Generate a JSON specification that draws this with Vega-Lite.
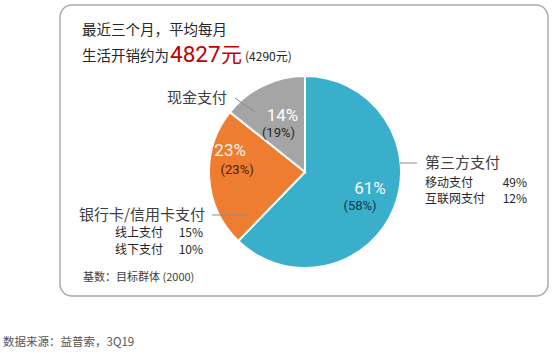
{
  "$schema": "https://vega.github.io/schema/vega-lite/v6.json",
  "width": 488,
  "height": 291,
  "autosize": {"type": "none"},
  "padding": {"left": 60, "top": 5, "right": 6, "bottom": 57},
  "background": "white",
  "config": {
    "view": {"stroke": "#a9a9a9", "strokeWidth": 1.5, "cornerRadius": 12},
    "font": "Noto Sans CJK SC",
    "text": {"font": "Noto Sans CJK SC", "fill": "#262626"}
  },
  "datasets": {
    "pie": [
      {"category": "第三方支付", "share": 61, "label": "61%", "prevLabel": "(58%)"},
      {"category": "银行卡/信用卡支付", "share": 23, "label": "23%", "prevLabel": "(23%)"},
      {"category": "现金支付", "share": 14, "label": "14%", "prevLabel": "(19%)"}
    ],
    "breakdown": [
      {"group": "第三方支付", "name": "移动支付", "pct": "49%"},
      {"group": "第三方支付", "name": "互联网支付", "pct": "12%"},
      {"group": "银行卡/信用卡支付", "name": "线上支付", "pct": "15%"},
      {"group": "银行卡/信用卡支付", "name": "线下支付", "pct": "10%"}
    ]
  },
  "layer": [
    {
      "data": {"name": "pie"},
      "mark": {"type": "arc", "outerRadius": 96, "stroke": "white", "strokeWidth": 2},
      "encoding": {
        "x": {"value": 245},
        "y": {"value": 167},
        "theta": {"field": "share", "type": "quantitative", "stack": true},
        "order": {"field": "share", "sort": "descending"},
        "color": {
          "field": "category",
          "type": "nominal",
          "scale": {"domain": ["第三方支付", "银行卡/信用卡支付", "现金支付"], "range": ["#3aafcb", "#ee7d31", "#a5a5a5"]},
          "legend": null
        }
      }
    },
    {
      "data": {"name": "pie"},
      "mark": {"type": "text", "font": "Roboto", "radius": 68, "dx": 2, "dy": -9, "fontSize": 17, "fill": "#f4fbfd", "align": "center", "baseline": "middle"},
      "encoding": {
        "x": {"value": 245}, "y": {"value": 167},
        "theta": {"field": "share", "type": "quantitative", "stack": true},
        "order": {"field": "share", "sort": "descending"},
        "text": {"condition": {"test": "datum.category === '第三方支付'", "field": "label"}, "value": ""}
      }
    },
    {
      "data": {"name": "pie"},
      "mark": {"type": "text", "font": "Roboto", "radius": 68, "dx": -8, "dy": 8, "fontSize": 13, "fill": "#0d3b4f", "align": "center", "baseline": "middle"},
      "encoding": {
        "x": {"value": 245}, "y": {"value": 167},
        "theta": {"field": "share", "type": "quantitative", "stack": true},
        "order": {"field": "share", "sort": "descending"},
        "text": {"condition": {"test": "datum.category === '第三方支付'", "field": "prevLabel"}, "value": ""}
      }
    },
    {
      "data": {"name": "pie"},
      "mark": {"type": "text", "font": "Roboto", "radius": 72, "dx": -3, "dy": -26, "fontSize": 17, "fill": "#fff4ea", "align": "center", "baseline": "middle"},
      "encoding": {
        "x": {"value": 245}, "y": {"value": 167},
        "theta": {"field": "share", "type": "quantitative", "stack": true},
        "order": {"field": "share", "sort": "descending"},
        "text": {"condition": {"test": "datum.category === '银行卡/信用卡支付'", "field": "label"}, "value": ""}
      }
    },
    {
      "data": {"name": "pie"},
      "mark": {"type": "text", "font": "Roboto", "radius": 72, "dx": 4, "dy": -7, "fontSize": 13, "fill": "#4d2200", "align": "center", "baseline": "middle"},
      "encoding": {
        "x": {"value": 245}, "y": {"value": 167},
        "theta": {"field": "share", "type": "quantitative", "stack": true},
        "order": {"field": "share", "sort": "descending"},
        "text": {"condition": {"test": "datum.category === '银行卡/信用卡支付'", "field": "prevLabel"}, "value": ""}
      }
    },
    {
      "data": {"name": "pie"},
      "mark": {"type": "text", "font": "Roboto", "radius": 52, "dx": 0, "dy": -9, "fontSize": 17, "fill": "#ffffff", "align": "center", "baseline": "middle"},
      "encoding": {
        "x": {"value": 245}, "y": {"value": 167},
        "theta": {"field": "share", "type": "quantitative", "stack": true},
        "order": {"field": "share", "sort": "descending"},
        "text": {"condition": {"test": "datum.category === '现金支付'", "field": "label"}, "value": ""}
      }
    },
    {
      "data": {"name": "pie"},
      "mark": {"type": "text", "font": "Roboto", "radius": 52, "dx": -4, "dy": 8, "fontSize": 13, "fill": "#262626", "align": "center", "baseline": "middle"},
      "encoding": {
        "x": {"value": 245}, "y": {"value": 167},
        "theta": {"field": "share", "type": "quantitative", "stack": true},
        "order": {"field": "share", "sort": "descending"},
        "text": {"condition": {"test": "datum.category === '现金支付'", "field": "prevLabel"}, "value": ""}
      }
    },
    {
      "data": {"values": [{"t": "最近三个月，平均每月"}]},
      "mark": {"type": "text", "align": "left", "baseline": "alphabetic", "fontSize": 14.5},
      "encoding": {"x": {"value": 22}, "y": {"value": 30}, "text": {"field": "t"}}
    },
    {
      "data": {"values": [{"t": "生活开销约为"}]},
      "mark": {"type": "text", "align": "left", "baseline": "alphabetic", "fontSize": 14.5},
      "encoding": {"x": {"value": 22}, "y": {"value": 56}, "text": {"field": "t"}}
    },
    {
      "data": {"values": [{"t": "4827"}]},
      "mark": {"type": "text", "font": "Roboto", "align": "left", "baseline": "alphabetic", "fontSize": 22.5, "fill": "#c00000"},
      "encoding": {"x": {"value": 110}, "y": {"value": 57}, "text": {"field": "t"}}
    },
    {
      "data": {"values": [{"t": "元"}]},
      "mark": {"type": "text", "align": "left", "baseline": "alphabetic", "fontSize": 21, "fill": "#c00000"},
      "encoding": {"x": {"value": 161}, "y": {"value": 57}, "text": {"field": "t"}}
    },
    {
      "data": {"values": [{"t": "(4290元)"}]},
      "mark": {"type": "text", "align": "left", "baseline": "alphabetic", "fontSize": 12},
      "encoding": {"x": {"value": 185}, "y": {"value": 56}, "text": {"field": "t"}}
    },
    {
      "data": {"values": [{"t": "现金支付"}]},
      "mark": {"type": "text", "align": "right", "baseline": "middle", "fontSize": 15, "fill": "#404040"},
      "encoding": {"x": {"value": 167}, "y": {"value": 93}, "text": {"field": "t"}}
    },
    {
      "data": {"values": [{"t": "第三方支付"}]},
      "mark": {"type": "text", "align": "left", "baseline": "middle", "fontSize": 15, "fill": "#404040"},
      "encoding": {"x": {"value": 365}, "y": {"value": 158}, "text": {"field": "t"}}
    },
    {
      "data": {"values": [{"t": "银行卡/信用卡支付"}]},
      "mark": {"type": "text", "align": "right", "baseline": "middle", "fontSize": 15, "fill": "#404040"},
      "encoding": {"x": {"value": 145}, "y": {"value": 210}, "text": {"field": "t"}}
    },
    {
      "data": {"name": "breakdown"},
      "transform": [{"filter": "datum.name === '移动支付'"}],
      "mark": {"type": "text", "align": "left", "baseline": "middle", "fontSize": 12},
      "encoding": {"x": {"value": 365}, "y": {"value": 178}, "text": {"field": "name"}}
    },
    {
      "data": {"name": "breakdown"},
      "transform": [{"filter": "datum.name === '移动支付'"}],
      "mark": {"type": "text", "align": "right", "baseline": "middle", "fontSize": 12},
      "encoding": {"x": {"value": 467}, "y": {"value": 178}, "text": {"field": "pct"}}
    },
    {
      "data": {"name": "breakdown"},
      "transform": [{"filter": "datum.name === '互联网支付'"}],
      "mark": {"type": "text", "align": "left", "baseline": "middle", "fontSize": 12},
      "encoding": {"x": {"value": 365}, "y": {"value": 194}, "text": {"field": "name"}}
    },
    {
      "data": {"name": "breakdown"},
      "transform": [{"filter": "datum.name === '互联网支付'"}],
      "mark": {"type": "text", "align": "right", "baseline": "middle", "fontSize": 12},
      "encoding": {"x": {"value": 467}, "y": {"value": 194}, "text": {"field": "pct"}}
    },
    {
      "data": {"name": "breakdown"},
      "transform": [{"filter": "datum.name === '线上支付'"}],
      "mark": {"type": "text", "align": "left", "baseline": "middle", "fontSize": 12},
      "encoding": {"x": {"value": 55}, "y": {"value": 228}, "text": {"field": "name"}}
    },
    {
      "data": {"name": "breakdown"},
      "transform": [{"filter": "datum.name === '线上支付'"}],
      "mark": {"type": "text", "align": "right", "baseline": "middle", "fontSize": 12},
      "encoding": {"x": {"value": 143}, "y": {"value": 228}, "text": {"field": "pct"}}
    },
    {
      "data": {"name": "breakdown"},
      "transform": [{"filter": "datum.name === '线下支付'"}],
      "mark": {"type": "text", "align": "left", "baseline": "middle", "fontSize": 12},
      "encoding": {"x": {"value": 55}, "y": {"value": 245}, "text": {"field": "name"}}
    },
    {
      "data": {"name": "breakdown"},
      "transform": [{"filter": "datum.name === '线下支付'"}],
      "mark": {"type": "text", "align": "right", "baseline": "middle", "fontSize": 12},
      "encoding": {"x": {"value": 143}, "y": {"value": 245}, "text": {"field": "pct"}}
    },
    {
      "data": {"values": [{"t": "基数：目标群体 (2000)"}]},
      "mark": {"type": "text", "align": "left", "baseline": "middle", "fontSize": 11, "fill": "#404040"},
      "encoding": {"x": {"value": 23}, "y": {"value": 273}, "text": {"field": "t"}}
    },
    {
      "data": {"values": [{"t": "数据来源：益普索，3Q19"}]},
      "mark": {"type": "text", "align": "left", "baseline": "middle", "fontSize": 11.5, "fill": "#555555"},
      "encoding": {"x": {"value": -57}, "y": {"value": 338}, "text": {"field": "t"}}
    },
    {
      "data": {"values": [{"k": 1}]},
      "mark": {"type": "rule", "stroke": "#8c8c8c", "strokeWidth": 1},
      "encoding": {"x": {"value": 175}, "y": {"value": 93}, "x2": {"value": 195}, "y2": {"value": 107}}
    },
    {
      "data": {"values": [{"k": 1}]},
      "mark": {"type": "rule", "stroke": "#8c8c8c", "strokeWidth": 1},
      "encoding": {"x": {"value": 340}, "y": {"value": 158}, "x2": {"value": 357}, "y2": {"value": 158}}
    },
    {
      "data": {"values": [{"k": 1}]},
      "mark": {"type": "rule", "stroke": "#8c8c8c", "strokeWidth": 1},
      "encoding": {"x": {"value": 152}, "y": {"value": 210}, "x2": {"value": 187}, "y2": {"value": 210}}
    }
  ]
}
